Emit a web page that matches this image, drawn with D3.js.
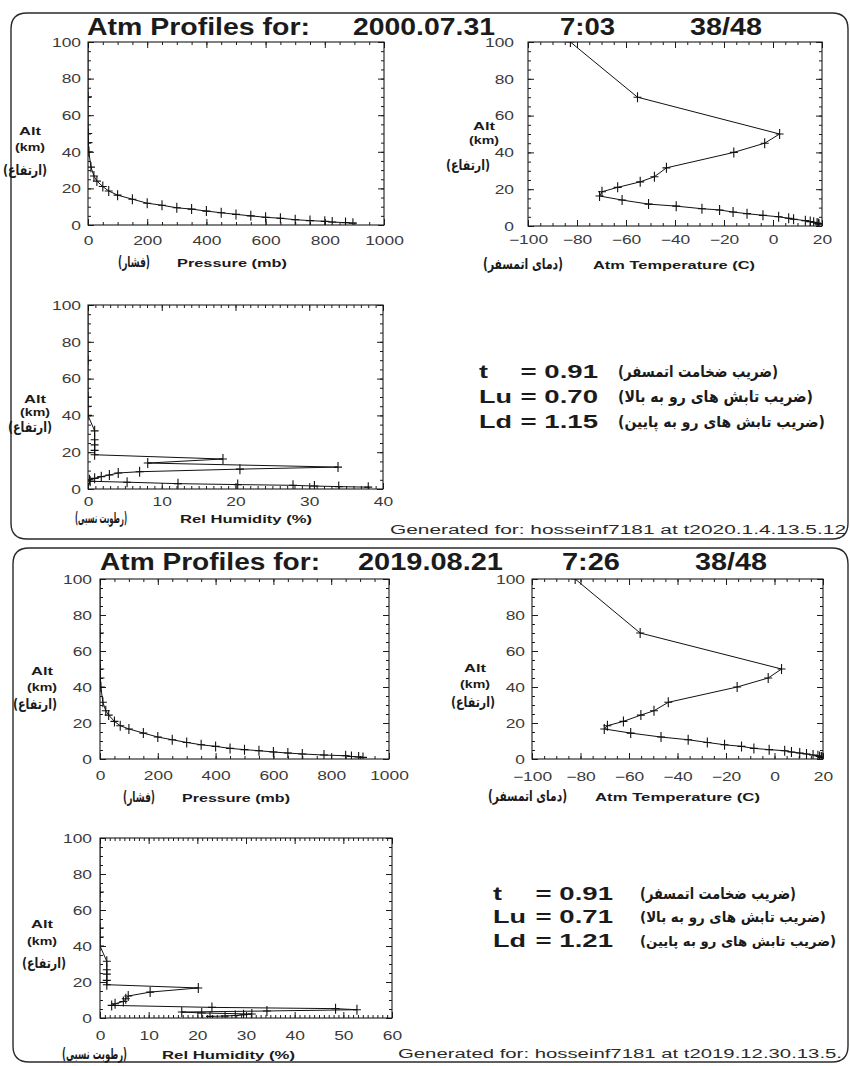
<!DOCTYPE html>
<html><head><meta charset="utf-8">
<script src="https://cdn.jsdelivr.net/npm/d3@7"></script>
<style>body{margin:0;background:#fff}</style>
</head><body><script>
// ---------------- DATA ----------------
const altTicks = [0, 20, 40, 60, 80, 100];
const pressureTicks = [0, 200, 400, 600, 800, 1000];
const temperatureTicks = [-100, -80, -60, -40, -20, 0, 20];
const humidityTicks2000 = [0, 10, 20, 30, 40];
const humidityTicks2019 = [0, 10, 20, 30, 40, 50, 60];

// 2000.07.31 7:03 profile
const altitude2000 = [1.0, 1.3, 1.6, 2.0, 2.4, 2.9, 3.7, 4.2, 5.0, 5.8, 6.7, 7.6, 8.7, 9.4, 10.8, 11.9, 14.1, 16.3, 18.6, 21.0, 24.0, 26.8, 31.6, 40, 45, 50, 70, 100];
const pressure2000 = [895, 870, 825, 800, 750, 700, 650, 600, 550, 500, 450, 400, 350, 300, 250, 200, 150, 100, 70, 50, 30, 20, 10, 2.9, 1.5, 0.8, 0.05, 0.0003];
const temperature2000 = [18.8, 18.5, 18.0, 16.6, 15.2, 13.2, 8.4, 6.4, 2.3, -4.1, -10.6, -16.3, -21.8, -29.0, -39.5, -50.8, -61.6, -70.8, -69.8, -63.4, -54.2, -48.4, -43.5, -16.0, -3.4, 2.7, -55.3, -82.7];
const humidity2000 = [38.0, 34.0, 30.7, 27.8, 20.3, 12.2, 5.3, 0.3, 0.2, 0.9, 1.8, 2.9, 4.1, 7.0, 20.6, 33.9, 8.1, 18.3, 0.9, 0.9, 0.9, 0.9, 0.9, 0, 0, 0, 0, 0];

// 2019.08.21 7:26 profile
const altitude2019 = [0.9, 1.1, 1.4, 1.8, 2.2, 2.8, 3.3, 3.9, 4.6, 5.2, 5.9, 7.0, 7.9, 9.2, 10.7, 12.2, 14.4, 16.7, 18.5, 20.9, 24.4, 26.8, 31.5, 40, 45, 50, 70, 100];
const pressure2019 = [910, 895, 870, 850, 775, 700, 650, 600, 550, 500, 450, 400, 350, 300, 250, 200, 150, 100, 70, 50, 30, 20, 10, 2.9, 1.5, 0.8, 0.05, 0.0003];
const temperature2019 = [19.6, 19.3, 18.6, 17.9, 15.9, 13.2, 10.4, 7.0, 4.2, -2.2, -8.5, -13.6, -20.6, -27.7, -35.6, -46.8, -59.3, -70.2, -68.9, -62.3, -55.1, -49.7, -43.8, -15.4, -2.6, 2.9, -55.4, -82.2];
const humidity2019 = [22.6, 25.7, 27.8, 29.5, 31.2, 20.9, 16.8, 34.3, 52.8, 48.4, 23.0, 2.4, 3.1, 4.8, 5.3, 5.8, 10.3, 20.2, 1.4, 1.4, 1.4, 1.4, 1.4, 0, 0, 0, 0, 0];

const coefNames = ['t', 'Lu', 'Ld'];
const coef2000 = [0.91, 0.70, 1.15];
const coef2019 = [0.91, 0.71, 1.21];
const coefPersian = ['(ضریب ضخامت اتمسفر)', '(ضریب تابش های رو به بالا)', '(ضریب تابش های رو به پایین)'];

// ---------------- DRAWING ----------------
const W = 850, H = 1066;
const INK = '#1b1b1b';
const SANS = '"Liberation Sans", Arial, sans-serif';
const FA = '"DejaVu Sans", sans-serif';
const svg = d3.select('body').append('svg').attr('width', W).attr('height', H);
svg.append('rect').attr('width', W).attr('height', H).attr('fill', '#fff');
const defs = svg.append('defs');
let clipN = 0;

function placeText(parent, str, x, y, o) {
  const t = parent.append('text').attr('x', x).attr('y', y).text(str)
    .style('font-family', o.fa ? FA : SANS).style('font-size', o.size + 'px')
    .style('font-weight', o.bold ? 'bold' : 'normal').attr('fill', o.fill || INK);
  let L = t.node().getComputedTextLength();
  if (o.maxRight && x + L > o.maxRight) {
    t.style('font-size', (o.size * (o.maxRight - x) / L) + 'px');
    L = t.node().getComputedTextLength();
  }
  const w = o.width || L * (o.k || 1);
  t.attr('textLength', w).attr('lengthAdjust', 'spacingAndGlyphs');
  let x0 = x;
  if (o.anchor === 'middle') x0 = x - w / 2;
  else if (o.anchor === 'end') x0 = x - w;
  t.attr('x', x0);
  return t;
}

function styleTickLabels(sel) {
  sel.selectAll('text').style('font-family', SANS).style('font-size', '12px').attr('fill', '#3a3a3a');
}

function drawPlot(o) {
  const b = o.box;
  const x = d3.scaleLinear().domain(o.xDomain).range([b.x0, b.x1]);
  const y = d3.scaleLinear().domain([0, 100]).range([b.y1, b.y0]);
  const g = svg.append('g');
  const cid = 'clip' + (clipN++);
  defs.append('clipPath').attr('id', cid).append('rect')
    .attr('x', b.x0).attr('y', b.y0).attr('width', b.x1 - b.x0).attr('height', b.y1 - b.y0);

  const xMinor = d3.range(o.xDomain[0], o.xDomain[1] + 1e-9, o.xMinorStep);
  const yMinor = d3.range(0, 100 + 1e-9, 5);
  const fmt = d3.format('d');

  const axes = [
    g.append('g').attr('transform', `translate(0,${b.y1})`).call(d3.axisBottom(x).tickValues(xMinor).tickSize(-3).tickFormat('')),
    g.append('g').attr('transform', `translate(0,${b.y0})`).call(d3.axisTop(x).tickValues(xMinor).tickSize(-3).tickFormat('')),
    g.append('g').attr('transform', `translate(${b.x0},0)`).call(d3.axisLeft(y).tickValues(yMinor).tickSize(-3).tickFormat('')),
    g.append('g').attr('transform', `translate(${b.x1},0)`).call(d3.axisRight(y).tickValues(yMinor).tickSize(-3).tickFormat('')),
    g.append('g').attr('transform', `translate(0,${b.y0})`).call(d3.axisTop(x).tickValues(o.xTicks).tickSize(-6).tickFormat('')),
    g.append('g').attr('transform', `translate(${b.x1},0)`).call(d3.axisRight(y).tickValues(altTicks).tickSize(-6).tickFormat(''))
  ];
  const bottom = g.append('g').attr('transform', `translate(0,${b.y1})`)
    .call(d3.axisBottom(x).tickValues(o.xTicks).tickSize(-6).tickFormat(fmt));
  const left = g.append('g').attr('transform', `translate(${b.x0},0)`)
    .call(d3.axisLeft(y).tickValues(altTicks).tickSize(-6).tickFormat(fmt));
  axes.push(bottom, left);
  axes.forEach(a => { a.select('.domain').remove(); a.selectAll('line').attr('stroke', INK).attr('stroke-width', 1); });

  styleTickLabels(bottom);
  bottom.selectAll('text').each(function () {
    const L = this.getComputedTextLength(), w = L * 1.45;
    d3.select(this).attr('text-anchor', 'start').attr('x', -w / 2).attr('dy', null)
      .attr('y', o.xLabelBase - b.y1).attr('textLength', w).attr('lengthAdjust', 'spacingAndGlyphs');
  });
  styleTickLabels(left);
  left.selectAll('text').each(function () {
    const L = this.getComputedTextLength(), w = L * 1.45;
    d3.select(this).attr('text-anchor', 'start').attr('x', -o.yLabelGap - w).attr('dy', '0.36em')
      .attr('textLength', w).attr('lengthAdjust', 'spacingAndGlyphs');
  });

  g.append('rect').attr('x', b.x0).attr('y', b.y0).attr('width', b.x1 - b.x0).attr('height', b.y1 - b.y0)
    .attr('fill', 'none').attr('stroke', INK).attr('stroke-width', 1.1);

  const pts = o.alts.map((a, i) => ({ a, v: o.xVals[i] }));
  const dg = g.append('g').attr('clip-path', `url(#${cid})`);
  dg.append('path').datum(pts)
    .attr('d', d3.line().x(d => x(d.v)).y(d => y(d.a)))
    .attr('fill', 'none').attr('stroke', '#111').attr('stroke-width', 1);
  dg.selectAll('path.cross').data(pts).join('path').attr('class', 'cross')
    .attr('d', d => `M${x(d.v) - 4},${y(d.a)}h8M${x(d.v)},${y(d.a) - 5}v10`)
    .attr('stroke', '#111').attr('stroke-width', 1.1).attr('fill', 'none');

  // y-axis title
  const al = o.altLabel;
  placeText(g, 'Alt', al.cx, al.y[0], { size: 11, bold: true, width: 22, anchor: 'middle' });
  placeText(g, '(km)', al.cx, al.y[1], { size: 11, bold: true, width: 30, anchor: 'middle' });
  placeText(g, '(ارتفاع)', al.faCx, al.y[2], { size: 14, bold: true, fa: true, width: 44, anchor: 'middle' });
  // x-axis title
  const xt = o.xTitle;
  placeText(g, xt.fa, xt.faX, xt.base, { size: 15, bold: true, fa: true, width: xt.faW });
  placeText(g, xt.en, xt.enX, xt.base, { size: 11.5, bold: true, width: xt.enW });
}

function frame(x0, y0, x1, y1, r) {
  svg.append('path')
    .attr('d', `M${x0 + r},${y0}H${x1 - r}Q${x1},${y0} ${x1},${y0 + r}V${y1 - r}Q${x1},${y1} ${x1 - r},${y1}H${x0 + r}Q${x0},${y1} ${x0},${y1 - r}V${y0 + r}Q${x0},${y0} ${x0 + r},${y0}Z`)
    .attr('fill', 'none').attr('stroke', '#2a2a2a').attr('stroke-width', 1.4);
}

function panel(p) {
  frame(p.frame[0], p.frame[1], p.frame[2], p.frame[3], 16);
  const g = svg.append('g');
  const T = p.title;
  placeText(g, 'Atm Profiles for:', T.x[0], T.base, { size: 23, bold: true, width: T.w[0] });
  placeText(g, p.date, T.x[1], T.base, { size: 23, bold: true, width: T.w[1] });
  placeText(g, p.time, T.x[2], T.base, { size: 23, bold: true, width: T.w[2] });
  placeText(g, p.path, T.x[3], T.base, { size: 23, bold: true, width: T.w[3] });

  drawPlot(Object.assign({ xDomain: [0, 1000], xTicks: pressureTicks, xMinorStep: 50, xVals: p.pressure, alts: p.alt }, p.P));
  drawPlot(Object.assign({ xDomain: [-100, 20], xTicks: temperatureTicks, xMinorStep: 5, xVals: p.temperature, alts: p.alt }, p.T));
  drawPlot(Object.assign({ xTicks: p.rhTicks, xDomain: [0, p.rhTicks[p.rhTicks.length - 1]], xMinorStep: 1, xVals: p.humidity, alts: p.alt }, p.RH));

  const c = p.coef;
  coefNames.forEach((n, i) => {
    placeText(g, n, c.x, c.base[i], { size: 19, bold: true, k: 1.42 });
    placeText(g, '= ' + d3.format('.2f')(p.coefs[i]), c.valEnd, c.base[i], { size: 19, bold: true, k: 1.45, anchor: 'end' });
    placeText(g, coefPersian[i], c.faX, c.base[i] - 1, { size: 16, bold: true, fa: true, width: c.faW[i], maxRight: 840 });
  });
  placeText(g, p.generated, p.gen.x, p.gen.base, { size: 12, width: p.gen.w, fill: '#2a2a2a' });
}

panel({
  date: '2000.07.31', time: '7:03', path: '38/48',
  frame: [11, 13, 848, 539],
  title: { base: 35, x: [87, 353, 560, 690], w: [223, 142, 55, 72] },
  alt: altitude2000, pressure: pressure2000, temperature: temperature2000, humidity: humidity2000,
  rhTicks: humidityTicks2000, coefs: coef2000,
  P: { box: { x0: 88, x1: 384, y0: 42, y1: 225 }, xLabelBase: 245, yLabelGap: 7,
       altLabel: { cx: 30, faCx: 25, y: [135, 151, 175] },
       xTitle: { fa: '(فشار)', faX: 118, faW: 32, en: 'Pressure (mb)', enX: 177, enW: 110, base: 267 } },
  T: { box: { x0: 528, x1: 822, y0: 42, y1: 226 }, xLabelBase: 244, yLabelGap: 14,
       altLabel: { cx: 484, faCx: 468, y: [130, 144, 170] },
       xTitle: { fa: '(دمای اتمسفر)', faX: 483, faW: 80, en: 'Atm  Temperature (C)', enX: 593, enW: 162, base: 269 } },
  RH: { box: { x0: 88, x1: 383, y0: 305, y1: 489 }, xLabelBase: 506, yLabelGap: 7,
        altLabel: { cx: 35, faCx: 30, y: [403, 416, 432] },
        xTitle: { fa: '(رطوبت نسبی)', faX: 75, faW: 52, en: 'Rel  Humidity (%)', enX: 180, enW: 132, base: 523 } },
  coef: { x: 479, valEnd: 598, base: [378, 403, 428], faX: 618, faW: [160, 195, 207] },
  generated: 'Generated for: hosseinf7181 at t2020.1.4.13.5.12', gen: { x: 390, base: 534, w: 456 }
});

panel({
  date: '2019.08.21', time: '7:26', path: '38/48',
  frame: [13, 548, 848, 1062],
  title: { base: 570, x: [100, 358, 562, 695], w: [220, 145, 58, 72] },
  alt: altitude2019, pressure: pressure2019, temperature: temperature2019, humidity: humidity2019,
  rhTicks: humidityTicks2019, coefs: coef2019,
  P: { box: { x0: 100, x1: 389, y0: 579, y1: 759 }, xLabelBase: 780, yLabelGap: 8,
       altLabel: { cx: 42, faCx: 35, y: [675, 691, 709] },
       xTitle: { fa: '(فشار)', faX: 123, faW: 32, en: 'Pressure  (mb)', enX: 182, enW: 108, base: 802 } },
  T: { box: { x0: 532, x1: 823, y0: 579, y1: 759 }, xLabelBase: 781, yLabelGap: 7,
       altLabel: { cx: 475, faCx: 473, y: [672, 688, 707] },
       xTitle: { fa: '(دمای اتمسفر)', faX: 488, faW: 79, en: 'Atm  Temperature (C)', enX: 595, enW: 165, base: 801 } },
  RH: { box: { x0: 100, x1: 392, y0: 838, y1: 1018 }, xLabelBase: 1040, yLabelGap: 8,
        altLabel: { cx: 42, faCx: 44, y: [928, 945, 968] },
        xTitle: { fa: '(رطوبت نسبی)', faX: 62, faW: 65, en: 'Rel Humidity  (%)', enX: 162, enW: 133, base: 1059 } },
  coef: { x: 493, valEnd: 613, base: [900, 923, 947], faX: 640, faW: [156, 186, 196] },
  generated: 'Generated for: hosseinf7181 at t2019.12.30.13.5.', gen: { x: 398, base: 1058, w: 444 }
});
</script></body></html>
